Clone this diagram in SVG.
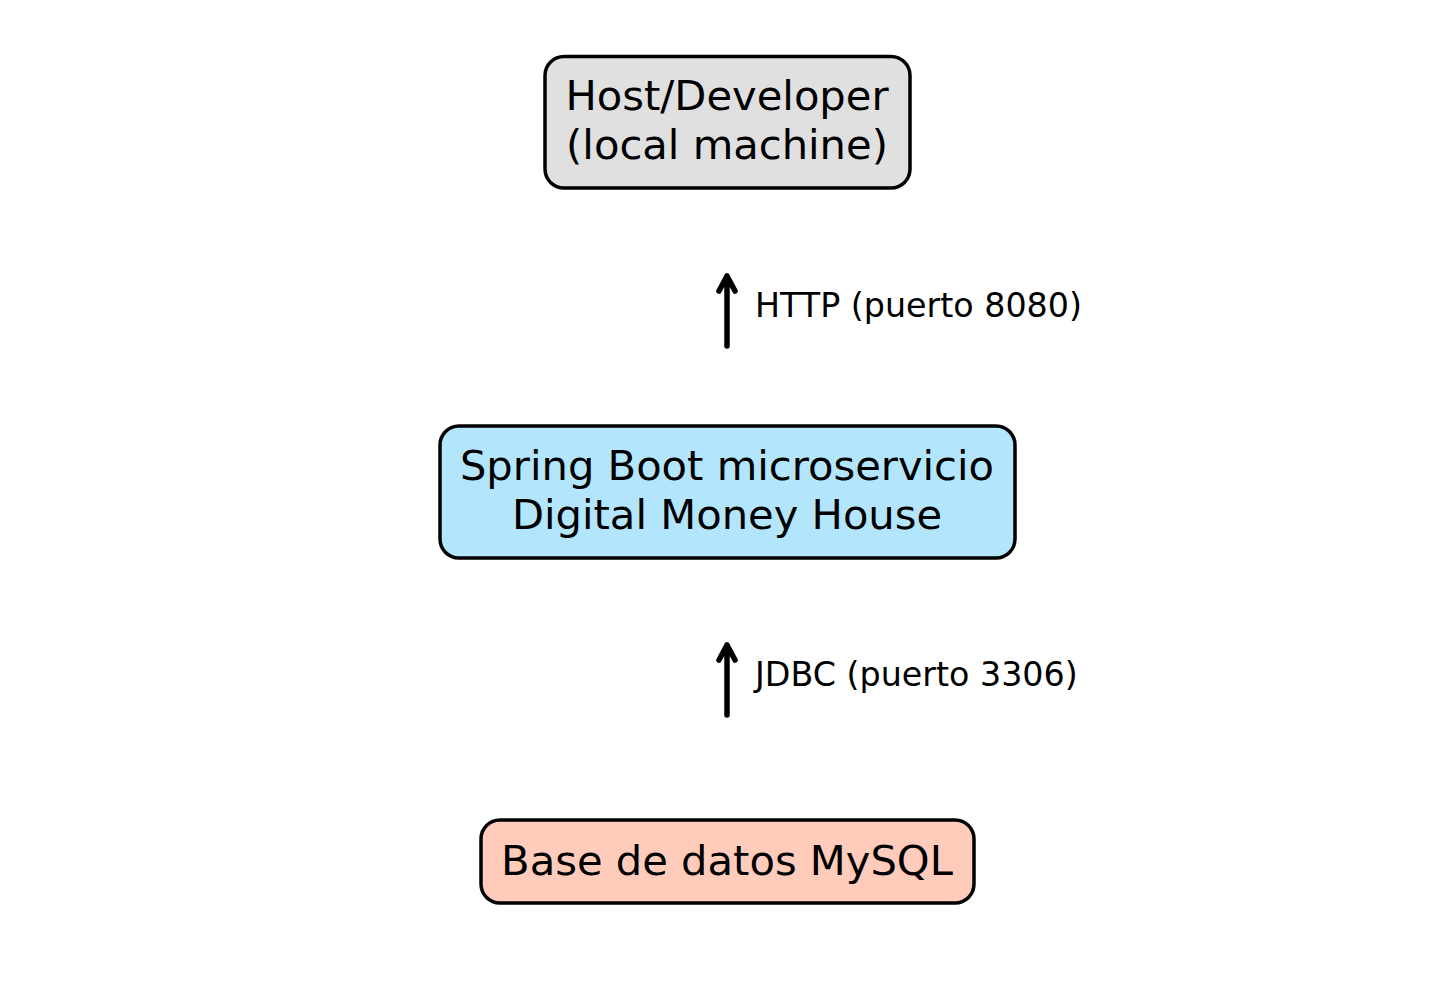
<svg xmlns="http://www.w3.org/2000/svg" width="1455" height="984" viewBox="0 0 1455 984">
<style>
.box{stroke:#000;stroke-width:3.5}
.t{font-family:"DejaVu Sans",sans-serif;font-size:41.67px;fill:#000;text-anchor:middle}
.lbl{font-family:"DejaVu Sans",sans-serif;font-size:33.3px;fill:#000}
.conn{stroke:#000;stroke-width:5.5;fill:none;stroke-linecap:round;stroke-linejoin:round}
</style>
<rect width="1455" height="984" fill="#fff"/>
<g id="host">
<rect class="box" x="545" y="56.5" width="365" height="131.5" rx="19" fill="#e0e0e0"/>
<text class="t" x="727" y="110">Host/Developer</text>
<text class="t" x="727" y="159">(local machine)</text>
</g>
<g id="spring">
<rect class="box" x="440" y="426" width="575" height="132" rx="19" fill="#b3e5fc"/>
<text class="t" x="727" y="480">Spring Boot microservicio</text>
<text class="t" x="727" y="529">Digital Money House</text>
</g>
<g id="mysql">
<rect class="box" x="481" y="820" width="493" height="83" rx="19" fill="#ffccbc"/>
<text class="t" x="727" y="875">Base de datos MySQL</text>
</g>
<g id="connectors">
<path class="conn" d="M727 346 L727 276 M719 291 L727 276 L735 291"/>
<text class="lbl" x="755" y="317">HTTP (puerto 8080)</text>
<path class="conn" d="M727 715 L727 645 M719 660 L727 645 L735 660"/>
<text class="lbl" x="755" y="686">JDBC (puerto 3306)</text>
</g>
</svg>
